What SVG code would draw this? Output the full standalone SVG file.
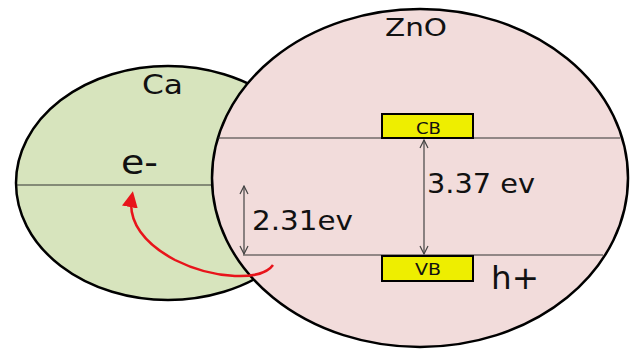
<svg xmlns="http://www.w3.org/2000/svg" width="637" height="349" viewBox="0 0 637 349">
  <style>
    .shell { stroke: #000; stroke-width: 2.5; }
    .level { stroke: #333; stroke-width: 1.2; fill: none; }
    .gap { stroke: #444; stroke-width: 1.2; fill: none; marker-start: url(#chev); marker-end: url(#chev); }
    .band { fill: #eeee00; stroke: #000; stroke-width: 2; }
    text { font-family: "DejaVu Sans", Verdana, sans-serif; fill: #111; }
  </style>
  <defs>
    <marker id="chev" viewBox="0 0 10 10" refX="9" refY="5" markerWidth="10" markerHeight="10" markerUnits="userSpaceOnUse" orient="auto-start-reverse">
      <path d="M1,1 L9,5 L1,9" fill="none" stroke="#444" stroke-width="1.2"/>
    </marker>
    <marker id="redhead" viewBox="0 0 10 10" refX="7" refY="5" markerWidth="16" markerHeight="16" markerUnits="userSpaceOnUse" orient="auto">
      <path d="M0,0 L10,5 L0,10 Z" fill="#e8141b"/>
    </marker>
  </defs>

  <!-- Ca particle -->
  <g id="ca">
    <ellipse cx="168" cy="183" rx="152" ry="117" fill="#d7e4bd" class="shell"/>
    <line x1="17" y1="185" x2="230" y2="185" class="level"/>
    <text x="142" y="94" font-size="26" textLength="41" lengthAdjust="spacingAndGlyphs">Ca</text>
    <text x="121" y="174" font-size="33" textLength="37" lengthAdjust="spacingAndGlyphs">e-</text>
  </g>

  <!-- ZnO particle -->
  <g id="zno">
    <ellipse cx="420" cy="178" rx="208" ry="169" fill="#f2dcdb" class="shell"/>
    <line x1="218" y1="138" x2="620" y2="138" class="level"/>
    <line x1="243" y1="255" x2="603" y2="255" class="level"/>
    <text x="385" y="36" font-size="25" textLength="62" lengthAdjust="spacingAndGlyphs">ZnO</text>
    <text x="491" y="289" font-size="32" textLength="48" lengthAdjust="spacingAndGlyphs">h+</text>
  </g>

  <g id="cb">
    <rect x="382" y="114" width="91" height="24" class="band"/>
    <text x="416" y="134" font-size="15" textLength="25" lengthAdjust="spacingAndGlyphs">CB</text>
  </g>
  <g id="vb">
    <rect x="382" y="256" width="91" height="25" class="band"/>
    <text x="415" y="275" font-size="15" textLength="26" lengthAdjust="spacingAndGlyphs">VB</text>
  </g>

  <g id="gap-labels">
    <text x="427" y="193" font-size="27" textLength="108" lengthAdjust="spacingAndGlyphs">3.37 ev</text>
    <text x="252" y="230" font-size="27" textLength="101" lengthAdjust="spacingAndGlyphs">2.31ev</text>
  </g>

  <g id="connectors">
    <line x1="424" y1="140" x2="424" y2="254" class="gap"/>
    <line x1="244" y1="186" x2="244" y2="254" class="gap"/>
    <path d="M273,265 C262,281 215,280 175,260 C145,244 127,222 132,196" fill="none" stroke="#e8141b" stroke-width="2.5" marker-end="url(#redhead)"/>
  </g>
</svg>
